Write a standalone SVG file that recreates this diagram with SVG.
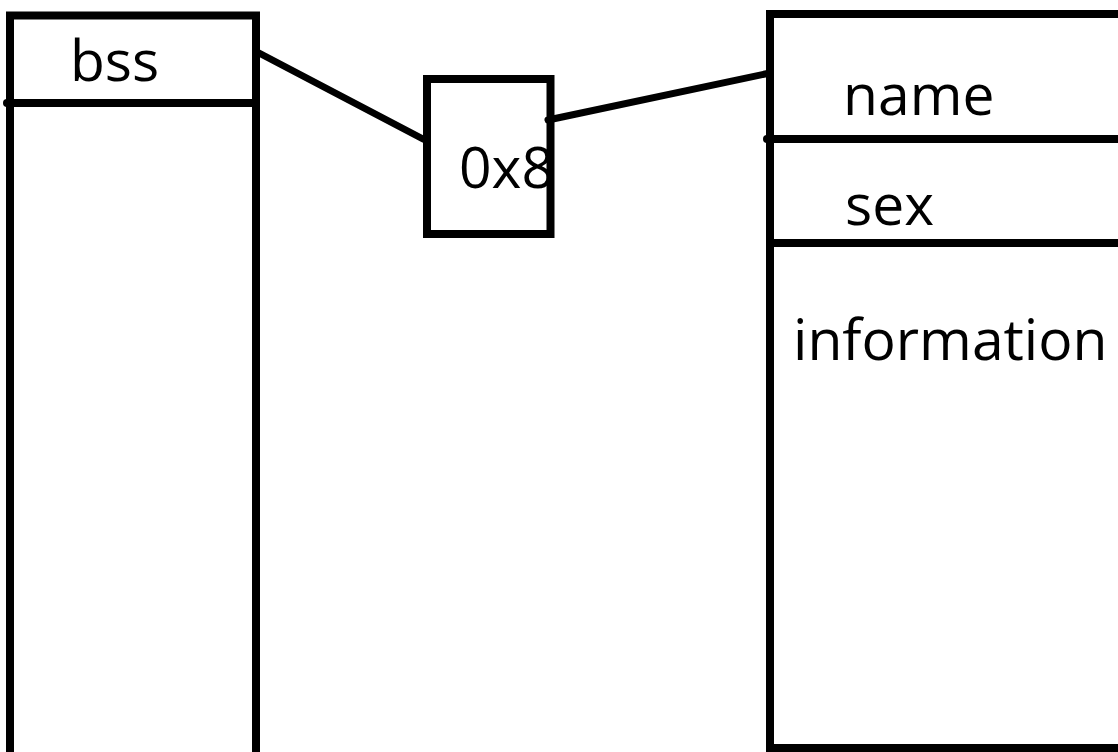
<svg xmlns="http://www.w3.org/2000/svg" width="1118" height="752" viewBox="0 0 1118 752">
<style>
.box{fill:none;stroke:#000;stroke-width:8}
.sep{stroke:#000;stroke-width:8;stroke-linecap:round}
.con{stroke:#000;stroke-width:7;stroke-linecap:round;fill:none}
.lbl{font-family:"Open Sans","Noto Sans",sans-serif;font-size:57px;fill:#000}
</style>
<rect width="1118" height="752" fill="#fff"/>
<g id="connectors">
<line class="con" x1="259" y1="53" x2="423" y2="139"/>
<line class="con" x1="548" y1="120" x2="770" y2="73"/>
</g>
<g id="bss">
<rect class="box" x="10" y="15.5" width="246" height="760"/>
<line class="sep" x1="7" y1="103" x2="256" y2="103"/>
<text class="lbl" x="70" y="81">bss</text>
</g>
<g id="ptr">
<text class="lbl" x="459" y="188">0x8</text>
<rect class="box" x="427" y="79" width="123.5" height="155" fill="#fff" fill-opacity="0"/>
</g>
<g id="struct">
<rect class="box" x="770" y="14" width="400" height="734"/>
<line class="sep" x1="767" y1="139" x2="1130" y2="139"/>
<line class="sep" x1="770" y1="243" x2="1130" y2="243"/>
<text class="lbl" x="843" y="115">name</text>
<text class="lbl" x="845" y="225">sex</text>
<text class="lbl" x="793" y="360">information</text>
</g>
</svg>
